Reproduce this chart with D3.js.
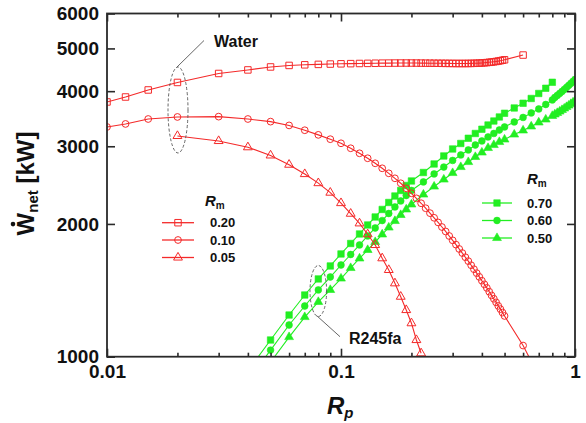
<!DOCTYPE html>
<html><head><meta charset="utf-8">
<script src="https://cdn.jsdelivr.net/npm/d3@7"></script>
<style>body{margin:0;background:#fff} svg{display:block}</style>
</head><body>
<svg id="c" width="586" height="423"></svg>
<script>
// ---------- data ----------
const waterX = [0.01,0.012,0.015,0.02,0.03,0.04,0.05,
  0.06,0.07,0.08,0.09,0.10,
  0.11,0.12,0.13,0.14,0.15,0.16,0.17,0.18,0.19,0.20,
  0.21,0.22,0.23,0.24,0.25,0.26,0.27,0.28,0.29,0.30,
  0.31,0.32,0.33,0.34,0.35,0.36,0.37,0.38,0.39,0.40,
  0.41,0.42,0.43,0.44,0.45,0.46,0.47,0.48,0.49,0.50,
  0.6,0.7];
const water020 = [3781,3880,4025,4186,4387,4469,4539,
  4575,4590,4600,4608,4614,
  4618,4622,4625,4628,4630,4631,4632,4633,4633,4633,
  4632,4631,4630,4629,4628,4627,4626,4625,4624,4623,
  4622,4622,4622,4622,4623,4624,4626,4628,4631,4635,
  4639,4644,4650,4656,4663,4671,4680,4690,4700,4712,
  4830];
const water010 = [3318,3371,3459,3496,3502,3459,3412,
  3345,3262,3184,3113,3047,
  2969,2892,2818,2745,2674,2605,2538,2473,2409,2347,
  2286,2228,2171,2116,2065,2016,1968,1923,1878,1836,
  1795,1755,1718,1681,1647,1612,1579,1547,1517,1487,
  1459,1432,1404,1377,1353,1328,1304,1282,1259,1237,
  1060,905];
const water005X = [0.02,0.03,0.04,0.05,0.06,0.07,0.08,0.09,0.10,0.11,
  0.12,0.13,0.14,0.15,0.16,0.17,0.18,0.19,0.20,0.21,0.22];
const water005 = [3166,3084,2985,2860,2725,2595,2475,2355,2230,2110,
  2006,1895,1792,1672,1573,1467,1368,1276,1191,1091,1018];

const r245X = [0.04,0.05,0.06,0.07,0.08,0.09,0.10,0.11,0.12,0.13,0.14,0.15,0.16,0.17,0.18,0.19,0.20,
  0.225,0.25,0.275,0.30,0.325,0.35,0.375,0.40,0.425,0.45,0.475,0.50,
  0.55,0.60,0.65,0.70,0.75,0.80,
  0.82,0.84,0.86,0.88,0.90,0.92,0.94,0.96,0.98,1.00];
const r245_070 = [929,1091,1243,1380,1501,1606,1710,1806,1898,1989,2074,2157,2237,2314,2382,2445,2503,
  2616,2735,2852,2958,3044,3128,3207,3279,3352,3423,3496,3564,
  3664,3755,3850,3952,4061,4190];
const r245_060 = [881,1035,1180,1303,1417,1516,1614,1705,1792,1878,1958,2036,2112,2185,2255,2320,2382,
  2490,2596,2692,2786,2867,2943,3020,3084,3149,3207,3266,3318,
  3406,3487,3570,3645,3731,3820,
  3870,3911,3952,3993,4035,4078,4121,4166,4207,4252];
const r245_050 = [850,972,1108,1230,1331,1417,1504,1589,1670,1746,1820,1893,1963,2031,2096,2157,2214,
  2332,2431,2522,2609,2692,2763,2837,2904,2973,3020,3068,3108,
  3190,3258,3327,3397,3450,3515,
  3543,3570,3597,3626,3654,3683,3711,3741,3770,3800];

const xMajor = [0.01,0.1,1];
const xMajorLabels = ["0.01","0.1","1"];
const xMinor = [0.02,0.03,0.04,0.05,0.06,0.07,0.08,0.09,0.2,0.3,0.4,0.5,0.6,0.7,0.8,0.9];
const yTicks = [1000,2000,3000,4000,5000,6000];
const yTickLabels = ["1000","2000","3000","4000","5000","6000"];
const waterLegend = ["0.20","0.10","0.05"];
const r245Legend = ["0.70","0.60","0.50"];

// ---------- setup ----------
const svg = d3.select("#c");
const L=107, R=575, T=13.5, B=356.7;
const x = d3.scaleLog().domain([0.01,1]).range([L,R]);
const y = d3.scaleLog().domain([1000,6000]).range([B,T]);
const FONT = "'Liberation Sans', Arial, sans-serif";
const RED = "#f42a2a", GREEN = "#22ee22", AX = "#2a2a2a";

svg.append("defs").append("clipPath").attr("id","clip")
  .append("rect").attr("x",L).attr("y",T).attr("width",R-L).attr("height",B-T);

const shapes = {square:[d3.symbolSquare,42], circle:[d3.symbolCircle,36], triangle:[d3.symbolTriangle,34]};

const series = [
  {xs:r245X.slice(0,r245_070.length), ys:r245_070, shape:"square", color:GREEN, filled:true},
  {xs:r245X, ys:r245_060, shape:"circle", color:GREEN, filled:true},
  {xs:r245X, ys:r245_050, shape:"triangle", color:GREEN, filled:true},
  {xs:waterX.slice(0,water020.length), ys:water020, shape:"square", color:RED, filled:false},
  {xs:waterX, ys:water010, shape:"circle", color:RED, filled:false},
  {xs:water005X, ys:water005, shape:"triangle", color:RED, filled:false}
];

const plot = svg.append("g").attr("clip-path","url(#clip)");
const line = d3.line().x(d=>x(d[0])).y(d=>y(d[1]));
series.forEach(s=>{
  const pts = s.xs.map((v,i)=>[v,s.ys[i]]);
  const g = plot.append("g");
  g.append("path").datum(pts).attr("d",line).attr("fill","none")
    .attr("stroke",s.color).attr("stroke-width",1.1);
  const sym = d3.symbol().type(shapes[s.shape][0]).size(shapes[s.shape][1]);
  g.selectAll("path.m").data(pts).join("path").attr("class","m")
    .attr("d",sym)
    .attr("transform",d=>`translate(${x(d[0])},${y(d[1])})`)
    .attr("fill", s.filled ? s.color : "none")
    .attr("stroke", s.color).attr("stroke-width", s.filled?0.6:1);
});

// ---------- axes ----------
function styleAxis(g){
  g.select(".domain").remove();
  g.selectAll("line").attr("stroke",AX).attr("stroke-width",1.6);
  g.selectAll("text").style("font-family",FONT).style("font-weight","bold")
    .style("font-size","19px").attr("fill","#111");
}
svg.append("g").attr("transform",`translate(0,${B})`)
  .call(d3.axisBottom(x).tickValues(xMajor).tickFormat((d,i)=>xMajorLabels[i]).tickSizeInner(-8).tickSizeOuter(0).tickPadding(8))
  .call(styleAxis);
svg.append("g").attr("transform",`translate(0,${B})`)
  .call(d3.axisBottom(x).tickValues(xMinor).tickFormat("").tickSizeInner(-4).tickSizeOuter(0))
  .call(styleAxis);
svg.append("g").attr("transform",`translate(0,${T})`)
  .call(d3.axisTop(x).tickValues(xMajor).tickFormat("").tickSizeInner(-8).tickSizeOuter(0))
  .call(styleAxis);
svg.append("g").attr("transform",`translate(0,${T})`)
  .call(d3.axisTop(x).tickValues(xMinor).tickFormat("").tickSizeInner(-4).tickSizeOuter(0))
  .call(styleAxis);
svg.append("g").attr("transform",`translate(${L},0)`)
  .call(d3.axisLeft(y).tickValues(yTicks).tickFormat((d,i)=>yTickLabels[i]).tickSizeInner(-8).tickSizeOuter(0).tickPadding(8))
  .call(styleAxis);
svg.append("g").attr("transform",`translate(${R},0)`)
  .call(d3.axisRight(y).tickValues(yTicks).tickFormat("").tickSizeInner(-8).tickSizeOuter(0))
  .call(styleAxis);
svg.append("rect").attr("x",L).attr("y",T).attr("width",R-L).attr("height",B-T)
  .attr("fill","none").attr("stroke",AX).attr("stroke-width",1.8);

// ---------- axis titles ----------
const xt = svg.append("text").attr("x",327).attr("y",414)
  .style("font-family",FONT).style("font-weight","bold").style("font-style","italic").attr("fill","#111");
xt.append("tspan").style("font-size","24px").text("R");
xt.append("tspan").style("font-size","15px").attr("dy",4).text("p");

const ytg = svg.append("g").attr("transform","translate(34,183.5) rotate(-90)");
const yt = ytg.append("text").attr("text-anchor","middle")
  .style("font-family",FONT).style("font-weight","bold").attr("fill","#111");
yt.append("tspan").style("font-size","24px").text("W");
yt.append("tspan").style("font-size","15px").attr("dy",4).text("net");
yt.append("tspan").style("font-size","24px").attr("dy",-4).text(" [kW]");
try{
  const n = yt.node();
  const s0 = n.getStartPositionOfChar(0), e0 = n.getEndPositionOfChar(0);
  ytg.append("circle").attr("cx",(s0.x+e0.x)/2).attr("cy",-21).attr("r",2.3).attr("fill","#111");
}catch(e){}

// ---------- legends ----------
function legend(x0, x1, labelX, rows, headerX, headerY, color, filled, labels){
  const hd = svg.append("text").attr("x",headerX).attr("y",headerY)
    .style("font-family",FONT).style("font-weight","bold").attr("fill","#111");
  hd.append("tspan").style("font-size","15px").style("font-style","italic").text("R");
  hd.append("tspan").style("font-size","10px").attr("dy",3).text("m");
  const sh = ["square","circle","triangle"];
  labels.forEach((lb,i)=>{
    const yy = rows[i];
    svg.append("line").attr("x1",x0).attr("x2",x1).attr("y1",yy).attr("y2",yy)
      .attr("stroke",color).attr("stroke-width",1.3);
    svg.append("path").attr("d",d3.symbol().type(shapes[sh[i]][0]).size(shapes[sh[i]][1])())
      .attr("transform",`translate(${(x0+x1)/2},${yy})`)
      .attr("fill",filled?color:"none").attr("stroke",color).attr("stroke-width",filled?0.6:1);
    svg.append("text").attr("x",labelX).attr("y",yy+4.5).text(lb)
      .style("font-family",FONT).style("font-weight","bold").style("font-size","13px").attr("fill","#111");
  });
}
legend(162,194,210,[222.7,240,257.5],205,206,RED,false,waterLegend);
legend(482,512,527,[203,220.5,238],527,184,GREEN,true,r245Legend);

// ---------- annotations ----------
svg.append("ellipse").attr("cx",178).attr("cy",110).attr("rx",10).attr("ry",43)
  .attr("fill","none").attr("stroke","#555").attr("stroke-width",0.9).attr("stroke-dasharray","3,2");
svg.append("line").attr("x1",177).attr("y1",67).attr("x2",204).attr("y2",40.5)
  .attr("stroke","#555").attr("stroke-width",0.9);
svg.append("text").attr("x",214).attr("y",46.5).text("Water")
  .style("font-family",FONT).style("font-weight","bold").style("font-size","16px").attr("fill","#111");

svg.append("ellipse").attr("cx",318.3).attr("cy",291).attr("rx",8.3).attr("ry",25.5)
  .attr("fill","none").attr("stroke","#555").attr("stroke-width",0.9).attr("stroke-dasharray","3,2");
svg.append("line").attr("x1",316.5).attr("y1",315.5).attr("x2",340).attr("y2",336.7)
  .attr("stroke","#555").attr("stroke-width",0.9);
svg.append("text").attr("x",349).attr("y",343.5).text("R245fa")
  .style("font-family",FONT).style("font-weight","bold").style("font-size","16px").attr("fill","#111");
</script>
</body></html>
